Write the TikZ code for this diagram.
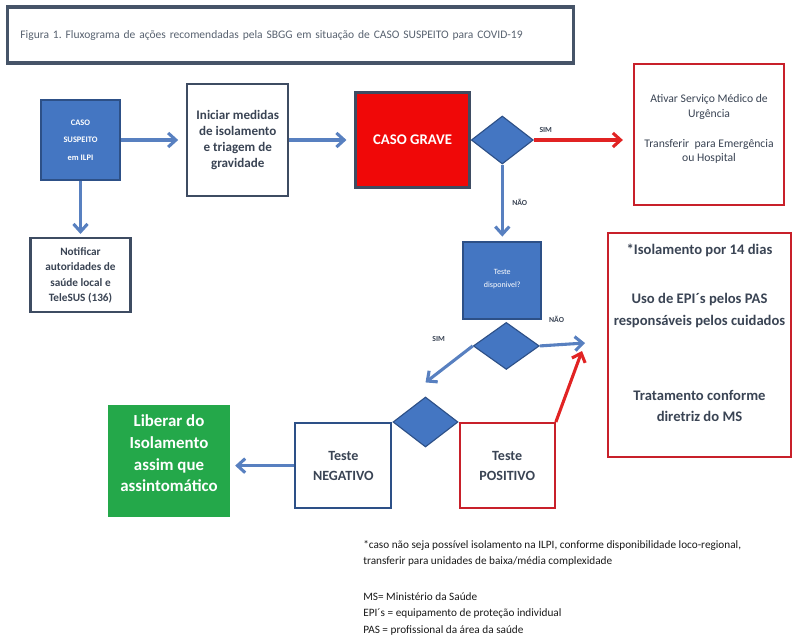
\documentclass[tikz,border=0pt]{standalone}
\usepackage{fontspec}
\setmainfont{Carlito}
\usetikzlibrary{arrows.meta,positioning,shapes.geometric}
\frenchspacing

\definecolor{caseblue}{RGB}{68,118,194}
\definecolor{blueline}{RGB}{45,80,135}
\definecolor{flowblue}{RGB}{88,128,192}
\definecolor{gravered}{RGB}{240,8,8}
\definecolor{redline}{RGB}{200,32,42}
\definecolor{alarmred}{RGB}{225,35,35}
\definecolor{leafgreen}{RGB}{36,168,74}
\definecolor{boxline}{RGB}{62,76,98}
\definecolor{boxtext}{RGB}{58,68,84}
\definecolor{titleline}{RGB}{70,84,104}
\definecolor{titletext}{RGB}{88,98,112}
\definecolor{notetext}{RGB}{25,25,25}

\begin{document}
\begin{tikzpicture}[
    x=0.025cm, y=-0.025cm,
    >={Straight Barb[length=5.5pt,width=10pt]},
    font=\bfseries,
    block/.style={
		rectangle,
		draw=boxline,
		line width=1.6pt,
		fill=white,
		text=boxtext,
		align=center,
		inner sep=1pt
	},
	blueblock/.style={
		block,
		draw=blueline,
		fill=caseblue,
		text=white
	},
	redblock/.style={
		block,
		draw=redline
	},
	choice/.style={
		diamond,
		draw=blueline,
		line width=0.8pt,
		fill=caseblue,
		inner sep=0pt
	},
	answer/.style={
		font=\bfseries\fontsize{5.5}{6}\selectfont,
		text=boxtext,
		inner sep=1pt
	},
	flow/.style={->, draw=flowblue, line width=2.2pt},
	alarm/.style={->, draw=alarmred, line width=2.2pt}
  ]
  \useasboundingbox (0,0) rectangle (792,641);

  \node [block, draw=titleline, line width=2.2pt, minimum width=14.125cm, minimum height=1.4cm,
         text width=13.5cm, align=left, text=titletext, font=\fontsize{8.2}{10}\selectfont] (title) at (290.5,35)
  {Figura 1. Fluxograma de ações recomendadas pela SBGG em situação de CASO SUSPEITO para COVID-19};

    % We start by placing the blocks
  \node [blueblock, minimum width=1.975cm, minimum height=2cm, font=\bfseries\fontsize{6}{12.5}\selectfont] (suspeito) at (80.5,140)
  {CASO\\SUSPEITO\\em ILPI};

  \node [block, right=1.625cm of suspeito, minimum width=2.525cm, minimum height=2.8cm,
         font=\bfseries\fontsize{9.3}{11.2}\selectfont] (iniciar)
  {Iniciar medidas\\de isolamento\\e triagem de\\gravidade};

  \node [block, fill=gravered, text=white, right=1.625cm of iniciar, minimum width=2.85cm, minimum height=2.375cm,
         font=\bfseries\fontsize{10.5}{12}\selectfont] (grave) {CASO GRAVE};

  \node [choice, right=0pt of grave, minimum width=1.55cm, minimum height=1.2cm] (d1) {};

  \node [redblock, right=2.475cm of d1, yshift=0.14cm, minimum width=3.75cm, minimum height=3.525cm,
         font=\fontsize{8.3}{10.5}\selectfont, text depth=0.3cm] (ativar)
  {Ativar Serviço Médico de\\Urgência\\[10.5pt]Transferir\ \ para Emergência\\ou Hospital};

  \node [block, below=1.4cm of suspeito, minimum width=2.5cm, minimum height=1.85cm,
         font=\bfseries\fontsize{8}{11}\selectfont] (notificar)
  {Notificar\\autoridades de\\saúde local e\\TeleSUS (136)};

  \node [blueblock, below=1.9cm of d1, minimum width=1.95cm, minimum height=1.925cm,
         font=\fontsize{5.7}{9.2}\selectfont, text depth=0.1cm] (teste) {Teste\\disponivel?};

  \node [choice, below=0.05cm of teste, xshift=0.1cm, minimum width=1.65cm, minimum height=1.175cm] (d2) {};

  \node [choice, minimum width=1.625cm, minimum height=1.25cm] (d3) at (425.5,422) {};

  \node [block, draw=blueline, anchor=north east, minimum width=2.4cm, minimum height=2.125cm,
         font=\bfseries\fontsize{10}{14}\selectfont] (negativo) at (d3.west) {Teste\\NEGATIVO};

  \node [redblock, anchor=north west, minimum width=2.375cm, minimum height=2.125cm,
         font=\bfseries\fontsize{10}{14}\selectfont] (positivo) at (d3.east) {Teste\\POSITIVO};

  \node [block, draw=leafgreen, fill=leafgreen, text=white, left=1.6cm of negativo, yshift=0.11cm,
         minimum width=3cm, minimum height=2.75cm, font=\bfseries\fontsize{12}{15.5}\selectfont,
         text depth=0.4cm] (liberar)
  {Liberar do\\Isolamento\\assim que\\assintomático};

  \node [redblock, minimum width=4.575cm, minimum height=5.6cm, font=\bfseries\fontsize{10.4}{15.6}\selectfont,
         text depth=0.6cm] (isol) at (699.5,345)
  {*Isolamento por 14 dias\\[19pt]Uso de EPI´s pelos PAS\\responsáveis pelos cuidados\\[37.7pt]Tratamento conforme\\diretriz do MS};

  \node [anchor=north west, align=left, inner sep=0pt, text=notetext, font=\fontsize{8}{11.6}\selectfont] (note) at (363,540)
  {*caso não seja possível isolamento na ILPI, conforme disponibilidade loco-regional,\\
   transferir para unidades de baixa/média complexidade\\[14pt]
   MS= Ministério da Saúde\\
   EPI´s = equipamento de proteção individual\\
   PAS = profissional da área da saúde};

  % free ends of the arrows towards the isolation box
  \coordinate (naoend) at (585,343);
  \coordinate (posend) at (582,351);

  \draw [flow, shorten >=0.2cm] (suspeito) -- (iniciar);
  \draw [flow, shorten >=0.2cm] (iniciar) -- (grave);
  \draw [flow, shorten >=0.08cm] (suspeito) -- (notificar);
  \draw [alarm, shorten >=0.25cm] (d1.east) -- node [answer, pos=0.12, above=3pt] {SIM} (d1.east -| ativar.west);
  \draw [flow, shorten >=0.1cm] (d1.south) -- node [answer, right=5pt] {NÃO} (d1.south |- teste.north);
  \draw [flow] (d2.east) -- node [answer, pos=0.37, above=14pt] {NÃO} (naoend);
  \draw [flow] (d2.west) -- node [answer, pos=0.05, left=16pt, yshift=6pt] {SIM} ([yshift=0.35cm]d3.north);
  \draw [alarm] (positivo.north east) -- (posend);
  \draw [flow, shorten >=0.125cm] (negativo.west) -- (negativo.west -| liberar.east);

\end{tikzpicture}
\end{document}
